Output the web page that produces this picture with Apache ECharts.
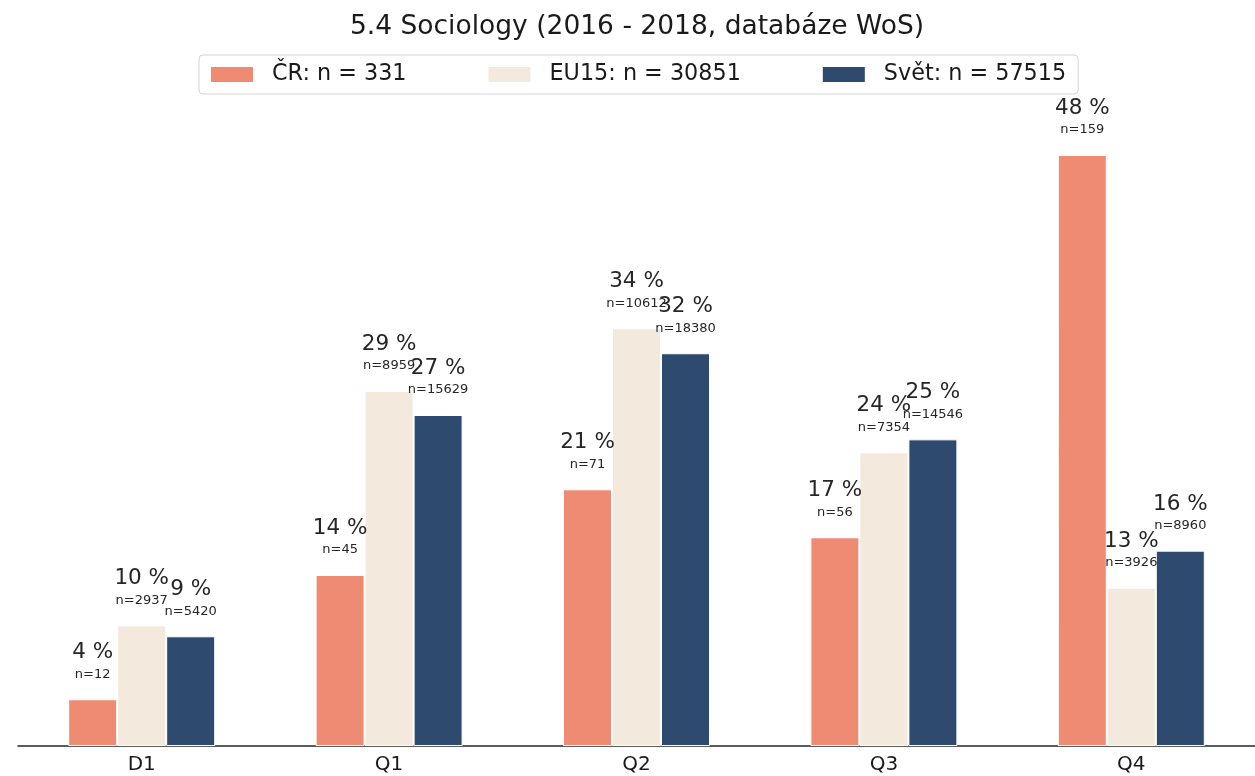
<!DOCTYPE html>
<html>
<head>
<meta charset="utf-8">
<script src="https://cdn.jsdelivr.net/npm/echarts@6/dist/echarts.min.js"></script>
<style>
html,body{margin:0;padding:0;background:#fff;}
#chart{width:1255px;height:776px;}
</style>
</head>
<body>
<div id="chart"></div>
<script>
const categories = ['D1', 'Q1', 'Q2', 'Q3', 'Q4'];
const seriesNames = ['ČR: n = 331', 'EU15: n = 30851', 'Svět: n = 57515'];

const crPct = [3.80, 13.90, 20.87, 16.97, 48.05];
const eu15Pct = [9.81, 28.86, 33.96, 23.88, 12.87];
const svetPct = [8.92, 26.91, 31.93, 24.93, 15.88];

const crLabel = [4, 14, 21, 17, 48];
const eu15Label = [10, 29, 34, 24, 13];
const svetLabel = [9, 27, 32, 25, 16];

const crN = [12, 45, 71, 56, 159];
const eu15N = [2937, 8959, 10612, 7354, 3926];
const svetN = [5420, 15629, 18380, 14546, 8960];

const colors = ['#ee8b72', '#f4e9dd', '#2e4a6e'];
const FONT = 'DejaVu Sans';

function makeSeries(name, values, labels, ns, color) {
  return {
    name: name,
    type: 'bar',
    data: values,
    barWidth: 49,
    barGap: '0%',
    itemStyle: { color: color, borderColor: '#ffffff', borderWidth: 1 },
    label: {
      show: true,
      position: 'top',
      distance: 18,
      formatter: function (p) {
        return '{p|' + labels[p.dataIndex] + ' %}\n{n|n=' + ns[p.dataIndex] + '}';
      },
      rich: {
        p: { fontFamily: FONT, fontSize: 21.5, lineHeight: 29, color: '#262626', align: 'center' },
        n: { fontFamily: FONT, fontSize: 13, lineHeight: 14, color: '#262626', align: 'center' }
      }
    },
    emphasis: { disabled: true }
  };
}

const chart = echarts.init(document.getElementById('chart'), null, { renderer: 'canvas' });
chart.setOption({
  animation: false,
  backgroundColor: '#ffffff',
  textStyle: { fontFamily: FONT },
  title: {
    text: '5.4 Sociology (2016 - 2018, databáze WoS)',
    left: 637,
    textAlign: 'center',
    top: 13,
    padding: 0,
    textStyle: { fontFamily: FONT, fontSize: 26.5, fontWeight: 'normal', color: '#1a1a1a', lineHeight: 29 }
  },
  legend: {
    data: seriesNames,
    left: 199,
    top: 55,
    padding: [8, 12, 8, 12],
    borderColor: '#d4d4d4',
    borderWidth: 1,
    borderRadius: 4,
    backgroundColor: '#ffffff',
    itemWidth: 42,
    itemHeight: 15,
    itemGap: 82,
    icon: 'rect',
    selectedMode: false,
    itemStyle: { borderWidth: 0 },
    textStyle: { fontFamily: FONT, fontSize: 22.3, lineHeight: 23, color: '#1a1a1a', padding: [0, 0, 0, 14] }
  },
  grid: { left: 18, right: 0, top: 131, bottom: 30, containLabel: false, outerBoundsMode: 'none' },
  xAxis: {
    type: 'category',
    data: categories,
    axisLine: { show: true, lineStyle: { color: '#262626', width: 1.5 } },
    axisTick: { show: false },
    axisLabel: { fontFamily: FONT, fontSize: 20, color: '#1a1a1a', margin: 9 }
  },
  yAxis: {
    type: 'value',
    min: 0,
    max: 50,
    show: false,
    splitLine: { show: false }
  },
  series: [
    makeSeries(seriesNames[0], crPct, crLabel, crN, colors[0]),
    makeSeries(seriesNames[1], eu15Pct, eu15Label, eu15N, colors[1]),
    makeSeries(seriesNames[2], svetPct, svetLabel, svetN, colors[2])
  ]
});
</script>
</body>
</html>
